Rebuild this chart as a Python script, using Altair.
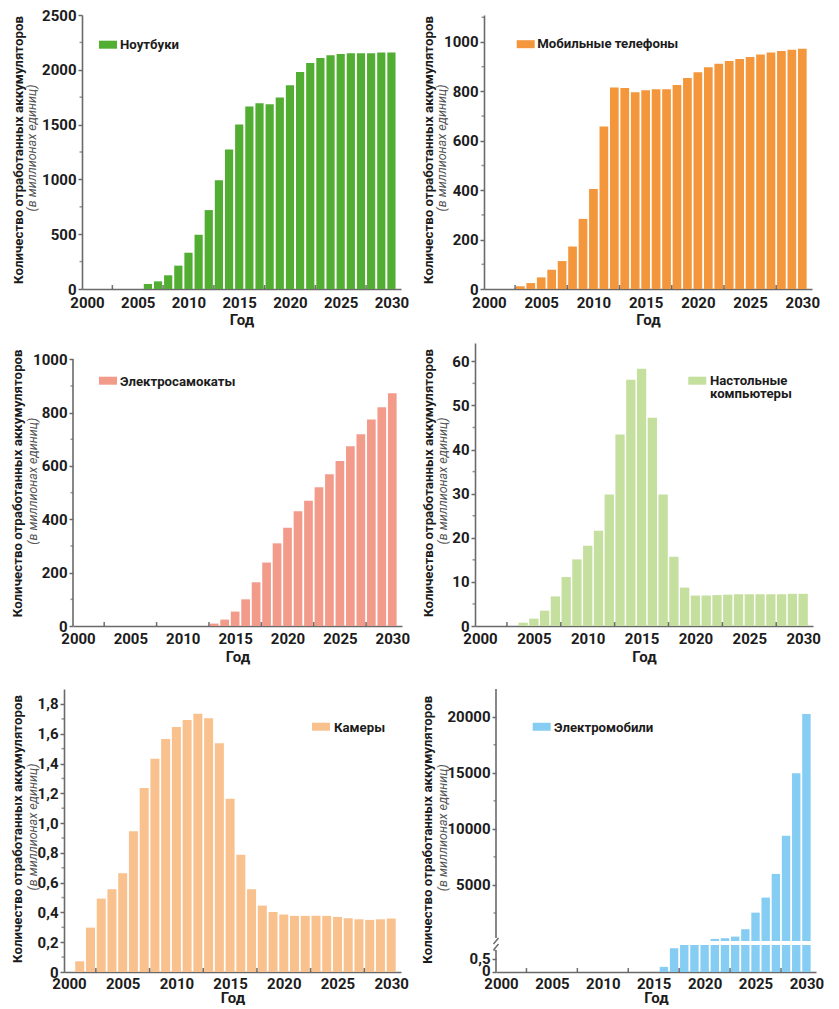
import altair as alt
import pandas as pd

FONT = "Roboto"
TEXT = "#1c1c1c"
AXIS = "#6a6a6a"
SUBC = "#555555"

Y_TITLE = "Количество отработанных аккумуляторов"
Y_SUB = "(в миллионах единиц)"
X_TITLE = "Год"
X_LABELS = [2000, 2005, 2010, 2015, 2020, 2025, 2030]
X_MINOR = [2002.5, 2007.5, 2012.5, 2017.5, 2022.5, 2027.5]
X_END = 2030.45

# ---- data (millions of units) ----
laptop_name = "Ноутбуки"
laptop_years = list(range(2006, 2031))
laptop_values = [46, 70, 125, 213, 331, 495, 720, 993, 1273, 1501,
                 1665, 1695, 1686, 1747, 1859, 1981, 2063, 2108, 2132, 2145,
                 2151, 2151, 2151, 2157, 2157]

phone_name = "Мобильные телефоны"
phone_years = list(range(2003, 2031))
phone_values = [11, 24, 47, 78, 113, 172, 284, 405, 658, 816,
                814, 797, 805, 809, 809, 826, 854, 878, 898, 912,
                923, 931, 939, 949, 957, 964, 969, 973]

scooter_name = "Электросамокаты"
scooter_years = list(range(2013, 2031))
scooter_values = [9, 24, 54, 100, 164, 238, 310, 368, 430, 470,
                  520, 569, 619, 674, 719, 774, 820, 873]

desktop_name = ["Настольные", "компьютеры"]
desktop_years = list(range(2004, 2031))
desktop_values = [0.75, 1.66, 3.47, 6.7, 11.1, 15.1, 18.2, 21.6, 29.8, 43.4,
                  55.8, 58.3, 47.2, 29.8, 15.7, 8.7, 6.9, 6.9, 7.0, 7.1,
                  7.2, 7.2, 7.2, 7.2, 7.2, 7.3, 7.3]

camera_name = "Камеры"
camera_years = list(range(2001, 2031))
camera_values = [0.072, 0.298, 0.493, 0.556, 0.664, 0.946, 1.235, 1.432, 1.565, 1.645,
                 1.692, 1.735, 1.704, 1.536, 1.163, 0.787, 0.556, 0.446, 0.403, 0.386,
                 0.377, 0.377, 0.377, 0.377, 0.370, 0.361, 0.354, 0.350, 0.354, 0.359]

ev_name = "Электромобили"
ev_low_years = list(range(2016, 2031))
ev_low_values = [0.19, 0.88, 1, 1, 1, 1, 1, 1, 1, 1, 1, 1, 1, 1, 1]
ev_up_years = list(range(2021, 2031))
ev_up_values = [190, 250, 392, 1050, 2530, 3870, 5980, 9390, 14950, 20250]

INT_FMT = "format(datum.value, 'd')"
DEC_FMT = "datum.value == 0 ? '0' : replace(format(datum.value, '.1f'), '.', ',')"
EV_FMT = "datum.value == 0.5 ? '0,5' : format(datum.value, 'd')"


def one(**kw):
    return pd.DataFrame({k: [v] for k, v in kw.items()})


def x_axis(lp, tp, off):
    return alt.Axis(values=X_LABELS, format="d", ticks=False, labelFlush=False,
                    labelOverlap=False, labelPadding=lp, title=X_TITLE, titlePadding=tp,
                    offset=-off)


def y_axis(values, expr, x0, domain=True, offset_zero=False):
    kw = {}
    if offset_zero:
        kw["labelOffset"] = {"condition": {"test": "datum.value == 0", "value": -2}, "value": 0}
    return alt.Axis(values=values, labelExpr=expr, title=None, tickSize=4, labelPadding=2,
                    labelOverlap=False, labelFlush=False, domain=domain, offset=-x0, **kw)


def decorations(H, x0, xs, ys, xax, yax, yminor, title_x, sub_x, title_y, legend, color):
    sx, sy, tx, ty, label = legend
    return [
        alt.Chart(pd.DataFrame({"m": yminor})).mark_tick(
            orient="horizontal", size=2.5, thickness=1.5, color=AXIS
        ).encode(y=alt.Y("m:Q", scale=ys, axis=yax), x=alt.value(x0 - 1.25)),
        alt.Chart(pd.DataFrame({"t": X_MINOR})).mark_tick(
            orient="vertical", size=4, thickness=1.5, color="#333333"
        ).encode(x=alt.X("t:Q", scale=xs, axis=xax), y=alt.value(H - 2)),
        alt.Chart(one(t=Y_TITLE)).mark_text(
            angle=270, font=FONT, fontSize=13.3, fontWeight="bold", color=TEXT,
            align="center", baseline="middle"
        ).encode(text="t:N", x=alt.value(title_x), y=alt.value(title_y)),
        alt.Chart(one(t=Y_SUB)).mark_text(
            angle=270, font=FONT, fontSize=12.5, fontStyle="italic", color=SUBC,
            align="center", baseline="middle"
        ).encode(text="t:N", x=alt.value(sub_x), y=alt.value(title_y - 2)),
        alt.Chart(one(a=0)).mark_rect(color=color).encode(
            x=alt.value(sx), x2=alt.value(sx + 18), y=alt.value(sy), y2=alt.value(sy + 8)
        ),
        alt.Chart(one(a=0)).mark_text(
            text=label, font=FONT, fontSize=13.2, fontWeight="bold", color=TEXT,
            align="left", baseline="middle", lineHeight=12.5
        ).encode(x=alt.value(tx), y=alt.value(ty)),
    ]


def panel(years, values, color, W, H, x0, ytop, yvals, yminor, expr, title_x, sub_x,
          title_y, legend, bar_w, lp, tp, cell_h=None, rule_top=None, anchor=False):
    cell_h = cell_h or H
    df = pd.DataFrame({"year": years, "value": values})
    xs = alt.Scale(domain=[2000, X_END], range=[x0, W], nice=False, zero=False)
    ys = alt.Scale(domain=[0, ytop], range=[H, 0], nice=False, zero=False)
    xax = x_axis(lp, tp, cell_h - H)
    yax = y_axis(yvals, expr, x0, domain=rule_top is None)
    bars = alt.Chart(df).mark_bar(color=color, width=bar_w).encode(
        x=alt.X("year:Q", scale=xs, axis=xax),
        y=alt.Y("value:Q", scale=ys, axis=yax),
    )
    layers = [bars]
    if rule_top is not None:
        layers.append(
            alt.Chart(one(a=0)).mark_rule(color=AXIS, strokeWidth=1.6).encode(
                x=alt.value(x0), y=alt.Y(datum=rule_top, scale=ys, axis=yax),
                y2=alt.datum(0)
            )
        )
    if anchor:
        layers.append(
            alt.Chart(one(a=0)).mark_rule(opacity=0, strokeWidth=1).encode(
                x=alt.value(-55.5), x2=alt.value(-55), y=alt.value(-6.5), y2=alt.value(-6)
            )
        )
    layers += decorations(H, x0, xs, ys, xax, yax, yminor, title_x, sub_x, title_y,
                          legend, color)
    return alt.layer(*layers).properties(width=W, height=cell_h)


# row 1 : plot top 15, bottom 289 ; column origins x=64 and x=475
p1 = panel(laptop_years, laptop_values, "#52ae32", 337, 274, 18, 2500,
           [0, 500, 1000, 1500, 2000, 2500], [250, 750, 1250, 1750, 2250], INT_FMT,
           -45.5, -32, 135, (35, 25.7, 56, 29.5, laptop_name), 8.2, 6, 2, anchor=True)

p2 = panel(phone_years, phone_values, "#f3963c", 337, 274, 9, 1109.3,
           [0, 200, 400, 600, 800, 1000], [100, 300, 500, 700, 900, 1100], INT_FMT,
           -46, -33.3, 135, (41.7, 25.2, 62.3, 29.3, phone_name), 8.7, 6, 2)

# row 2 : plot top 343, bottom 626 (cell 9px taller to set the gap to row 3)
p3 = panel(scooter_years, scooter_values, "#f29b8b", 338, 283, 9, 1061,
           [0, 200, 400, 600, 800, 1000], [100, 300, 500, 700, 900], INT_FMT,
           -45.7, -31.2, 140.3, (35, 33.7, 56, 38.7, scooter_name), 8.7, 5, 3,
           cell_h=292, rule_top=1000)

p4 = panel(desktop_years, desktop_values, "#c5df9e", 338, 283, 0, 64.15,
           [0, 10, 20, 30, 40, 50, 60], [5, 15, 25, 35, 45, 55], INT_FMT,
           -46.3, -31.7, 140, (213.3, 33.7, 235, 38.2, desktop_name), 9.3, 5, 3,
           cell_h=292)

# row 3 : plot top 689, bottom 972
p5 = panel(camera_years, camera_values, "#f9c18d", 337, 283, 0, 1.9007,
           [0, 0.2, 0.4, 0.6, 0.8, 1.0, 1.2, 1.4, 1.6, 1.8],
           [0.1, 0.3, 0.5, 0.7, 0.9, 1.1, 1.3, 1.5, 1.7], DEC_FMT,
           -45.7, -31.2, 140, (248, 33.7, 270, 38.5, camera_name), 9, 4, -1)

# ---- electric vehicles: broken axis ----
OFF = 2
W6, H6, X6 = 341, 283, 21
EV_COLOR = "#86cdf3"
xs6 = alt.Scale(domain=[2000, X_END], range=[X6, W6], nice=False, zero=False)
ys6 = alt.Scale(domain=[0, 1, OFF, OFF + 22470], range=[283, 256, 252, 0], nice=False, zero=False)
xax6 = x_axis(4, -1, 0)
yax6 = y_axis([0, 0.5, 5000, 10000, 15000, 20000], EV_FMT, X6, domain=False, offset_zero=True)

ev_low = alt.Chart(pd.DataFrame({"year": ev_low_years, "value": ev_low_values})).mark_bar(
    color=EV_COLOR, width=8.4
).encode(
    x=alt.X("year:Q", scale=xs6, axis=xax6),
    y=alt.Y("value:Q", scale=ys6, axis=yax6),
)
ev_up = alt.Chart(pd.DataFrame({"year": ev_up_years, "value": ev_up_values})).transform_calculate(
    top=f"datum.value + {OFF}"
).mark_bar(color=EV_COLOR, width=8.4).encode(
    x=alt.X("year:Q", scale=xs6, axis=xax6),
    y=alt.Y("top:Q", scale=ys6, axis=yax6),
    y2=alt.datum(OFF),
)
ev_axis_up = alt.Chart(one(a=0)).mark_rule(color=AXIS, strokeWidth=1.6).encode(
    x=alt.value(X6), y=alt.value(0), y2=alt.value(249)
)
ev_axis_low = alt.Chart(one(a=0)).mark_rule(color=AXIS, strokeWidth=1.6).encode(
    x=alt.value(X6), y=alt.value(261), y2=alt.value(283)
)
ev_break1 = alt.Chart(one(a=0)).mark_rule(color=AXIS, strokeWidth=1.4).encode(
    x=alt.value(X6 - 2.5), x2=alt.value(X6 + 2.5), y=alt.value(255), y2=alt.value(249)
)
ev_break2 = alt.Chart(one(a=0)).mark_rule(color=AXIS, strokeWidth=1.4).encode(
    x=alt.value(X6 - 2.5), x2=alt.value(X6 + 2.5), y=alt.value(261), y2=alt.value(255)
)
ev_minor = [0.8, 2500 + OFF, 7500 + OFF, 12500 + OFF, 17500 + OFF]
p6 = alt.layer(
    ev_low, ev_up, ev_axis_up, ev_axis_low, ev_break1, ev_break2,
    *decorations(H6, X6, xs6, ys6, xax6, yax6, ev_minor, -47.5, -32.2, 140.7,
                 (57.7, 33.7, 79, 38.5, ev_name), EV_COLOR)
).properties(width=W6, height=H6)

chart = alt.concat(
    p1, p2, p3, p4, p5, p6,
    columns=2,
    spacing={"row": 54, "column": 73},
    bounds="flush",
).properties(
    padding={"left": 0, "top": 0, "right": 0, "bottom": 0}
).configure_view(
    strokeWidth=0
).configure_axis(
    labelFont=FONT, labelFontSize=15, labelFontWeight="bold", labelColor=TEXT,
    titleFont=FONT, titleFontSize=15, titleFontWeight="bold", titleColor=TEXT,
    domainColor=AXIS, domainWidth=1.6, tickColor=AXIS, tickWidth=1.5, grid=False,
)

chart.save("out.html", embed_options={"renderer": "svg", "actions": False})
